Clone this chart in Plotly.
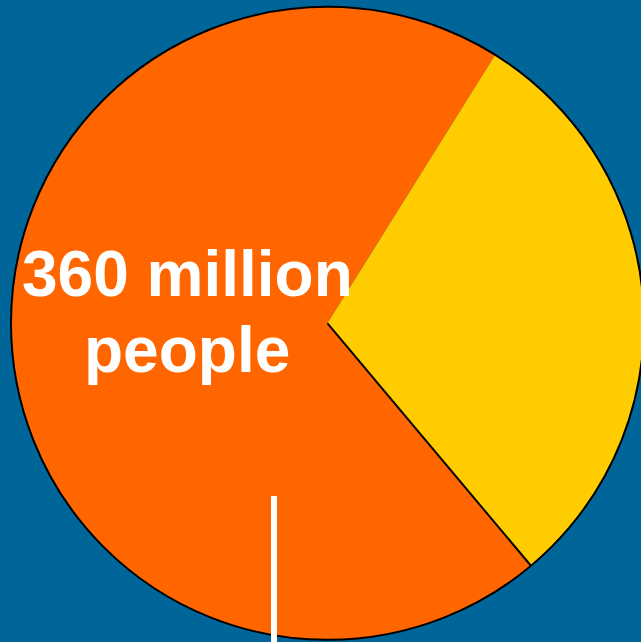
import math
import plotly.graph_objects as go

# Data
labels = ["Share A", "Share B"]
values = [70, 30]
slice_colors = ["#FF6600", "#FFCC00"]
label_lines = ["360 million", "people"]

W, H = 655, 646
BG = "#006699"
ROT = 140  # start angle of first slice (deg clockwise from 12 o'clock)

# pie geometry in pixels (domain)
top_px, bot_px = 6.8, 639.8
dom_y = [(H - bot_px) / H, (H - top_px) / H]
r_px = min(W, bot_px - top_px) / 2
cx_px, cy_px = W / 2, (top_px + bot_px) / 2

fig = go.Figure()
fig.add_trace(go.Pie(
    labels=labels,
    values=values,
    sort=False,
    direction="clockwise",
    rotation=ROT,
    marker=dict(colors=slice_colors, line=dict(width=0)),
    textinfo="none",
    hoverinfo="label+percent",
    showlegend=False,
    domain=dict(x=[0, 1], y=dom_y),
))
# outer outline (full circle, no radial edges)
fig.add_trace(go.Pie(
    labels=["outline"],
    values=[1],
    marker=dict(colors=["rgba(0,0,0,0)"], line=dict(color="black", width=2)),
    textinfo="none",
    hoverinfo="skip",
    showlegend=False,
    domain=dict(x=[0, 1], y=dom_y),
))

# black edge only along the boundary where the first slice begins
theta = math.radians(ROT)
ex_px = cx_px + r_px * math.sin(theta)
ey_px = cy_px - r_px * math.cos(theta)
fig.add_shape(type="line", xref="paper", yref="paper",
              x0=cx_px / W, y0=1 - cy_px / H, x1=ex_px / W, y1=1 - ey_px / H,
              line=dict(color="black", width=2))

# Two-line label placed as separate annotations (tighter line spacing)
line_centers_px = [274, 350]
for txt, ypx in zip(label_lines, line_centers_px):
    fig.add_annotation(
        text="<b>" + txt + "</b>", x=187 / W, y=1 - ypx / H, xref="paper", yref="paper",
        xanchor="center", yanchor="middle", showarrow=False,
        font=dict(family="Liberation Sans, Arial, sans-serif", size=64, color="white"),
    )

# White pointer line
fig.add_shape(type="line", xref="paper", yref="paper",
              x0=274 / W, x1=274 / W, y0=-0.01, y1=1 - 496 / H,
              line=dict(color="white", width=6))

fig.update_layout(
    width=W, height=H,
    margin=dict(l=0, r=0, t=0, b=0),
    paper_bgcolor=BG, plot_bgcolor=BG,
)

fig.write_html("out.html", config={"displayModeBar": False},
               post_script="document.body.style.margin='0';document.body.style.overflow='hidden';document.documentElement.style.overflow='hidden';")
